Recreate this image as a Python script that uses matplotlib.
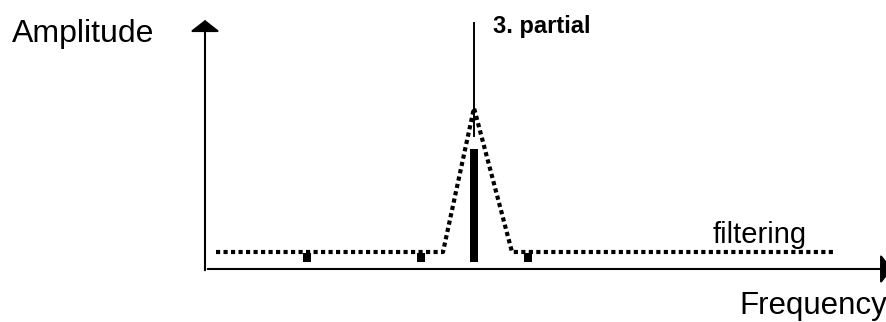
import matplotlib
matplotlib.use("Agg")
import matplotlib.pyplot as plt

# ---- data (schematic units: x = frequency, y = amplitude) ----
partial_freqs = [102, 216, 269, 323]
partial_amps = [16, 16, 120, 16]
filter_x = [11, 238, 269, 307, 630]
filter_y = [17, 17, 161, 17, 17]
highlight_freq = 269
highlight_top = 246
highlight_bottom = 133
label_partial = "3. partial"
label_filter = "filtering"
label_y = "Amplitude"
label_x = "Frequency"

W, H = 887, 322
fig = plt.figure(figsize=(W / 100, H / 100), dpi=100)
fig.patch.set_facecolor("white")
ax = fig.add_axes([205 / W, (H - 269) / H, (W - 205) / W, (269 - 20) / H])
ax.set_xlim(0, 682)
ax.set_ylim(0, 249)
ax.axis("off")

font = "Liberation Sans"

# axes with arrows
ax.annotate("", xy=(0, 1.0), xytext=(0, -0.005), xycoords="axes fraction",
            arrowprops=dict(arrowstyle="-|>,head_length=0.7,head_width=0.9",
                            lw=1.5, color="black", shrinkA=0, shrinkB=0),
            annotation_clip=False)
ax.annotate("", xy=(1.0075, 0), xytext=(0.004, 0), xycoords="axes fraction",
            arrowprops=dict(arrowstyle="-|>,head_length=0.7,head_width=0.9",
                            lw=1.5, color="black", shrinkA=0, shrinkB=0),
            annotation_clip=False)

# partial bars
bar_base = 7
ax.bar(partial_freqs, [a - bar_base for a in partial_amps], bottom=bar_base,
       width=7.5, color="black", zorder=3)

# filter curve (dotted)
ax.plot(filter_x, filter_y, color="black", lw=3.0,
        linestyle=(0, (1.0, 0.8)), dash_capstyle="butt", zorder=2)

# thin line marking the 3rd partial
ax.plot([highlight_freq, highlight_freq], [highlight_bottom, highlight_top],
        color="black", lw=1.4, zorder=4)

ax.text(288, 236, label_partial, fontsize=17, fontweight="bold",
        family=font, va="baseline", ha="left")
ax.text(508, 26, label_filter, fontsize=21, family=font,
        va="baseline", ha="left")

fig.text(12 / W, 1 - 42 / H, label_y, fontsize=23, family=font,
         va="baseline", ha="left")
fig.text(739 / W, 1 - 314 / H, label_x, fontsize=22.5, family=font,
         va="baseline", ha="left")

fig.savefig("out.png", dpi=100, facecolor="white")
